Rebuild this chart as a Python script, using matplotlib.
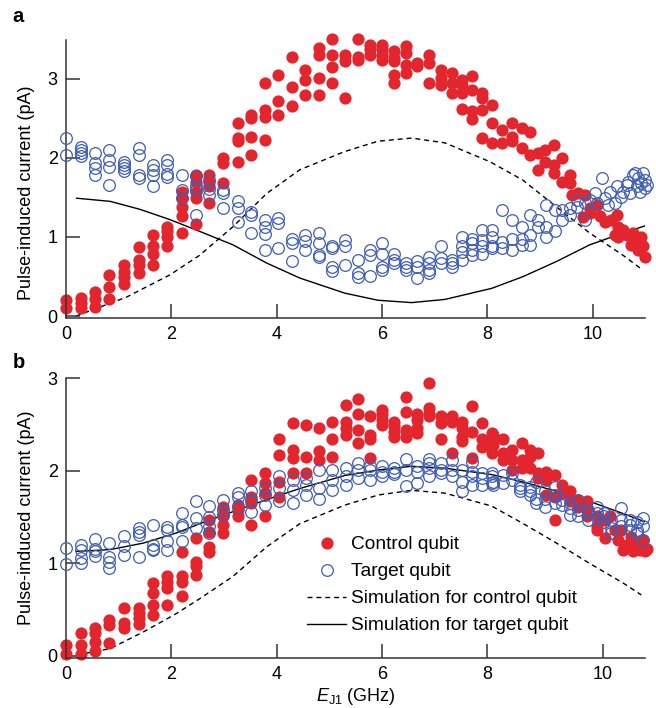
import numpy as np
import matplotlib
matplotlib.use("Agg")
import matplotlib.pyplot as plt
from matplotlib.lines import Line2D

plt.rcParams['font.family'] = ['Liberation Sans', 'DejaVu Sans']
plt.rcParams['mathtext.fontset'] = 'custom'
plt.rcParams['mathtext.rm'] = 'Liberation Sans'
plt.rcParams['mathtext.it'] = 'Liberation Sans:italic'

RED = '#E3262E'
BLUE = '#3E5DB4'

# ---------------- Panel a data (E_J1 in GHz, current in pA) ----------------
a_ctrl_cols = [
    (0.00, [0.20, 0.10]), (0.28, [0.23, 0.16, 0.10]), (0.55, [0.31, 0.22, 0.12]),
    (0.82, [0.52, 0.37, 0.22]), (1.10, [0.65, 0.56, 0.50, 0.41]),
    (1.38, [0.87, 0.71, 0.64, 0.54]), (1.66, [1.03, 0.88, 0.78, 0.65]),
    (1.92, [1.13, 1.08, 1.00, 0.88]), (2.20, [1.57, 1.49, 1.38, 1.26, 1.05]),
    (2.46, [1.78, 1.70, 1.57, 1.49, 1.16]), (2.72, [1.78, 1.70, 1.64, 1.43]),
    (2.98, [2.00, 1.93, 1.68]), (3.26, [2.44, 2.25, 2.21, 1.95]),
    (3.52, [2.54, 2.50, 2.27, 2.04]), (3.78, [2.95, 2.61, 2.52, 2.23]),
    (4.03, [3.05, 2.72, 2.54]), (4.29, [3.28, 2.90, 2.65]), (4.54, [3.11, 2.99, 2.80]),
    (4.80, [3.39, 3.30, 3.01, 2.80]), (5.05, [3.50, 3.30, 3.15, 2.95]),
    (5.29, [3.30, 3.22, 2.76]), (5.54, [3.50, 3.28, 3.24]), (5.77, [3.43, 3.37, 3.30]),
    (6.00, [3.43, 3.37, 3.30, 3.24]), (6.23, [3.35, 3.26, 3.22, 3.05, 2.95]),
    (6.46, [3.41, 3.33, 3.18, 3.07]), (6.67, [3.20, 3.16]), (6.89, [3.30, 3.20, 2.95]),
    (7.11, [3.11, 3.01, 2.92]), (7.32, [3.07, 2.95, 2.82]), (7.52, [2.99, 2.92, 2.82, 2.62]),
    (7.71, [3.03, 2.86, 2.59, 2.49]), (7.90, [2.82, 2.76, 2.61, 2.25]),
    (8.08, [2.67, 2.44, 2.19]), (8.27, [2.35, 2.19]), (8.46, [2.44, 2.27, 2.21]),
    (8.65, [2.38, 2.12]), (8.80, [2.33, 2.04]), (8.96, [2.06, 1.85]), (9.10, [1.95, 2.10]),
    (9.27, [2.16, 1.91, 1.81]), (9.42, [2.00, 1.70]), (9.56, [1.78, 1.68]), (9.60, [1.53]),
    (9.72, [1.55]), (9.82, [1.25]), (9.85, [1.53]), (9.94, [1.36, 1.30]), (10.07, [1.41]),
    (10.13, [1.26]), (10.23, [1.19]), (10.35, [1.22]), (10.42, [1.03]), (10.45, [1.28]),
    (10.48, [1.13, 1.00]), (10.57, [1.09]), (10.64, [1.03]), (10.73, [0.90]),
    (10.77, [1.05]), (10.83, [0.96]), (10.86, [0.84]), (10.92, [1.00]), (10.95, [0.88]),
    (10.99, [0.75]),
]
a_targ_cols = [
    (0.00, [2.25, 2.04]), (0.28, [2.14, 2.10, 2.06, 2.02]), (0.55, [2.06, 1.93, 1.87, 1.78]),
    (0.82, [2.10, 1.97, 1.89, 1.66]), (1.10, [1.95, 1.91, 1.87, 1.83]),
    (1.38, [2.12, 2.04, 1.78, 1.74]), (1.66, [1.91, 1.85, 1.78, 1.65]),
    (1.92, [1.97, 1.91, 1.80, 1.76]), (2.20, [1.78, 1.59, 1.49]),
    (2.46, [1.77, 1.64, 1.59, 1.28]), (2.72, [1.72, 1.60, 1.53]), (2.98, [1.59, 1.55, 1.36]),
    (3.26, [1.45, 1.36, 1.19]), (3.52, [1.32, 1.28, 1.05]), (3.78, [1.22, 1.13, 1.04, 0.84]),
    (4.03, [1.24, 1.18, 0.86]), (4.29, [0.98, 0.92, 0.69]), (4.54, [1.03, 0.95, 0.84]),
    (4.80, [1.05, 0.92, 0.77, 0.75]), (5.05, [0.88, 0.86, 0.62, 0.57]),
    (5.29, [0.96, 0.88, 0.65]), (5.54, [0.71, 0.54, 0.50]), (5.77, [0.84, 0.77, 0.51]),
    (6.00, [0.92, 0.79, 0.62, 0.58]), (6.23, [0.79, 0.71, 0.67]), (6.46, [0.67, 0.62, 0.58]),
    (6.67, [0.69, 0.62, 0.48]), (6.89, [0.75, 0.67, 0.58, 0.54]), (7.11, [0.88, 0.73, 0.67]),
    (7.32, [0.71, 0.67, 0.62]), (7.52, [1.00, 0.88, 0.81, 0.71]),
    (7.71, [0.98, 0.92, 0.84, 0.77]), (7.90, [1.09, 0.96, 0.89, 0.79]),
    (8.08, [1.09, 1.00, 0.88, 0.86]), (8.27, [1.34, 0.94, 0.86]), (8.46, [1.22, 0.98, 0.84]),
    (8.65, [1.13, 0.98, 0.90]), (8.80, [1.28, 1.03, 0.90]), (8.96, [1.22, 1.13]),
    (9.12, [1.41, 1.13, 1.00]), (9.28, [1.34, 1.07]), (9.41, [1.34, 1.22]),
    (9.56, [1.36, 1.28]), (9.70, [1.47, 1.38]), (9.85, [1.43, 1.22]), (9.94, [1.47]),
    (10.04, [1.55]), (10.07, [1.43]), (10.17, [1.74]), (10.23, [1.49]), (10.29, [1.41]),
    (10.32, [1.57]), (10.42, [1.43]), (10.45, [1.64]), (10.54, [1.51]), (10.57, [1.57]),
    (10.64, [1.66]), (10.67, [1.70]), (10.70, [1.55]), (10.77, [1.78]), (10.80, [1.81]),
    (10.83, [1.64]), (10.86, [1.74]), (10.89, [1.57]), (10.92, [1.68]), (10.95, [1.81]),
    (10.99, [1.72, 1.62]), (11.02, [1.66]),
]
a_sim_ctrl_x = [0.19, 1.15, 1.97, 2.54, 3.17, 3.81, 4.44, 5.29, 5.92, 6.56, 7.19, 8.05, 8.67, 9.31, 9.94, 10.57, 10.95]
a_sim_ctrl_y = [0.00, 0.24, 0.52, 0.77, 1.13, 1.55, 1.85, 2.08, 2.21, 2.25, 2.19, 1.95, 1.72, 1.38, 1.05, 0.77, 0.58]
a_sim_targ_x = [0.20, 0.84, 1.40, 1.97, 2.54, 3.17, 3.81, 4.44, 5.29, 5.92, 6.56, 7.19, 8.08, 8.68, 9.31, 9.94, 10.57, 10.99]
a_sim_targ_y = [1.49, 1.45, 1.35, 1.22, 1.07, 0.90, 0.67, 0.48, 0.29, 0.20, 0.17, 0.21, 0.35, 0.50, 0.69, 0.90, 1.05, 1.14]

# ---------------- Panel b data ----------------
b_ctrl_cols = [
    (0.00, [0.12, 0.02]), (0.28, [0.25, 0.12, 0.02]), (0.55, [0.30, 0.25, 0.15, 0.05]),
    (0.82, [0.39, 0.34, 0.14]), (1.10, [0.52, 0.36, 0.30]), (1.38, [0.52, 0.46, 0.41, 0.35]),
    (1.66, [0.79, 0.68, 0.55, 0.44]), (1.92, [0.86, 0.80, 0.73, 0.55]),
    (2.20, [1.12, 0.86, 0.80, 0.65]), (2.46, [1.27, 1.02, 0.97, 0.88]),
    (2.72, [1.47, 1.34, 1.18, 1.12]), (2.98, [1.61, 1.51, 1.42, 1.33]),
    (3.26, [1.63, 1.58, 1.51]), (3.52, [1.90, 1.72, 1.65, 1.41]),
    (3.78, [1.98, 1.87, 1.76, 1.51]), (4.04, [2.35, 2.17, 1.88, 1.72]),
    (4.30, [2.52, 2.23, 2.14, 1.98]), (4.55, [2.50, 2.15, 1.98]), (4.80, [2.46, 2.21, 2.12]),
    (5.05, [2.53, 2.35, 2.15]), (5.31, [2.71, 2.53, 2.46, 2.39]),
    (5.54, [2.78, 2.61, 2.44, 2.30]), (5.77, [2.59, 2.39, 2.34, 2.14]),
    (6.00, [2.66, 2.61, 2.55, 2.50]), (6.23, [2.53, 2.48, 2.42, 2.37]),
    (6.46, [2.80, 2.64, 2.44, 2.37]), (6.67, [2.61, 2.55, 2.46, 2.41]),
    (6.89, [2.95, 2.68, 2.62, 2.59]), (7.11, [2.59, 2.52, 2.35]), (7.32, [2.59, 2.53, 2.19]),
    (7.52, [2.53, 2.46, 2.37, 2.32]), (7.71, [2.70, 2.42, 2.14]), (7.90, [2.52, 2.35, 2.26]),
    (8.08, [2.41, 2.32, 2.19]), (8.11, [2.39, 2.28]), (8.30, [2.34, 2.19, 2.12]),
    (8.46, [2.23, 2.12, 2.01]), (8.65, [2.30, 2.12, 2.03]), (8.80, [2.23, 2.15, 2.03]),
    (8.96, [2.19, 1.98, 1.92]), (9.12, [1.99, 1.90, 1.74]), (9.28, [1.96, 1.72, 1.47]),
    (9.41, [1.85, 1.76]), (9.56, [1.78, 1.67]), (9.72, [1.69, 1.61]),
    (9.88, [1.67, 1.60, 1.51]), (10.07, [1.51, 1.40, 1.36]), (10.23, [1.47, 1.27]),
    (10.32, [1.51]), (10.42, [1.36]), (10.48, [1.25]), (10.54, [1.36]), (10.57, [1.15]),
    (10.64, [1.20]), (10.73, [1.29]), (10.77, [1.13]), (10.83, [1.22]), (10.89, [1.15]),
    (10.95, [1.25]), (10.99, [1.13]), (11.02, [1.16]),
]
b_targ_cols = [
    (0.00, [1.17, 0.99]), (0.28, [1.20, 1.15, 1.06, 1.00]), (0.55, [1.26, 1.16, 1.13, 1.08]),
    (0.82, [1.22, 1.07, 1.02, 0.95]), (1.10, [1.30, 1.19, 1.09]),
    (1.38, [1.38, 1.34, 1.31, 1.07]), (1.66, [1.41, 1.20, 1.16, 1.15]),
    (1.92, [1.39, 1.36, 1.24, 1.15]), (2.20, [1.54, 1.42, 1.39, 1.24]),
    (2.46, [1.67, 1.49, 1.38]), (2.72, [1.62, 1.50, 1.40, 1.33]), (2.98, [1.69, 1.58, 1.52]),
    (3.26, [1.76, 1.72, 1.61]), (3.52, [1.78, 1.69, 1.56]), (3.78, [1.81, 1.74, 1.63]),
    (4.04, [1.94, 1.81, 1.67]), (4.30, [1.90, 1.79, 1.65]), (4.55, [1.92, 1.85, 1.74]),
    (4.80, [2.01, 1.81, 1.70]), (5.05, [2.01, 1.90, 1.79]), (5.31, [2.03, 1.94, 1.85]),
    (5.54, [2.08, 2.01, 1.92]), (5.77, [2.05, 2.01, 1.90]), (6.00, [2.05, 1.99, 1.95]),
    (6.23, [2.03, 1.99, 1.97]), (6.46, [2.13, 2.01, 1.84]), (6.67, [2.05, 1.99, 1.87]),
    (6.89, [2.13, 2.08, 2.03, 1.94]), (7.11, [2.08, 2.01, 1.98]), (7.32, [2.12, 2.01, 1.94]),
    (7.52, [2.01, 1.88, 1.78]), (7.71, [2.10, 1.99, 1.94, 1.85]), (7.90, [1.98, 1.92, 1.85]),
    (8.08, [1.98, 1.94, 1.87]), (8.11, [1.88, 1.85]), (8.30, [1.96, 1.87]), (8.46, [1.98, 1.90]),
    (8.62, [1.85, 1.81, 1.78]), (8.80, [1.83, 1.78, 1.74]), (8.93, [1.88, 1.70, 1.65]),
    (9.09, [1.78, 1.70, 1.61]), (9.28, [1.83, 1.74, 1.65]), (9.41, [1.69, 1.63]),
    (9.56, [1.65, 1.60, 1.52]), (9.72, [1.69, 1.58, 1.51]), (9.90, [1.58, 1.54, 1.47]),
    (10.07, [1.61, 1.54, 1.49]), (10.21, [1.54, 1.51, 1.45]), (10.35, [1.47, 1.38, 1.33]),
    (10.54, [1.60, 1.47, 1.40]), (10.70, [1.47, 1.42, 1.36]), (10.83, [1.45, 1.36, 1.33]),
    (10.95, [1.49, 1.40, 1.25]),
]
b_sim_ctrl_x = [0.20, 0.84, 1.47, 2.10, 2.54, 3.17, 3.81, 4.44, 5.29, 5.93, 6.56, 7.19, 8.08, 8.68, 9.31, 9.94, 10.57, 10.92]
b_sim_ctrl_y = [0.01, 0.08, 0.26, 0.46, 0.62, 0.86, 1.18, 1.43, 1.63, 1.74, 1.79, 1.76, 1.62, 1.43, 1.22, 1.00, 0.79, 0.66]
b_sim_targ_x = [0.20, 0.84, 1.47, 2.10, 2.54, 3.17, 3.81, 4.44, 5.29, 5.93, 6.56, 7.19, 8.08, 8.68, 9.31, 9.94, 10.57, 10.99]
b_sim_targ_y = [1.13, 1.15, 1.22, 1.33, 1.43, 1.56, 1.69, 1.81, 1.95, 2.01, 2.05, 2.03, 1.96, 1.88, 1.78, 1.67, 1.54, 1.45]

a_xticks = [0, 2, 4, 6, 8, 10]
b_xtick_pos = [0, 2, 4, 6, 8, 10.19]
xtick_labels = ['0', '2', '4', '6', '8', '10']


def flatten(cols):
    xs, ys = [], []
    for x, vals in cols:
        for v in vals:
            xs.append(x)
            ys.append(v)
    return np.array(xs), np.array(ys)


fig = plt.figure(figsize=(6.56, 7.08), dpi=100)
ax1 = fig.add_axes([0.1006, 0.5508, 0.8826, 0.3927])
ax2 = fig.add_axes([0.1006, 0.0706, 0.8826, 0.3950])

FS = 13
LFS = 13.8
MS = 8.8


def style(ax):
    for s in ['top', 'right']:
        ax.spines[s].set_visible(False)
    for s in ['left', 'bottom']:
        ax.spines[s].set_color('#333333')
        ax.spines[s].set_linewidth(1.1)
    ax.tick_params(direction='in', length=10, width=1.1, color='#333333',
                   labelsize=FS, pad=6)


def draw(ax, ctrl_cols, targ_cols, sc_x, sc_y, st_x, st_y):
    cx, cy = flatten(ctrl_cols)
    tx, ty = flatten(targ_cols)
    ax.plot(sc_x, sc_y, color='black', lw=1.0, ls=(0, (3.6, 2.8)), zorder=1)
    ax.plot(st_x, st_y, color='black', lw=1.0, zorder=1)
    ax.plot(cx, cy, 'o', ms=MS, color=RED, mec='none', zorder=2, clip_on=False)
    ax.plot(tx, ty, 'o', ms=MS - 0.4, mfc='none', mec=BLUE, mew=0.9, zorder=3, clip_on=False)


draw(ax1, a_ctrl_cols, a_targ_cols, a_sim_ctrl_x, a_sim_ctrl_y, a_sim_targ_x, a_sim_targ_y)
draw(ax2, b_ctrl_cols, b_targ_cols, b_sim_ctrl_x, b_sim_ctrl_y, b_sim_targ_x, b_sim_targ_y)

style(ax1)
style(ax2)
ax1.set_xlim(0, 10.99)
ax1.set_ylim(-0.025, 3.49)
ax1.set_xticks(a_xticks)
ax1.set_xticklabels(xtick_labels)
ax1.set_yticks([0, 1, 2, 3])
ax2.set_xlim(0, 10.99)
ax2.set_ylim(-0.022, 3.0)
ax2.set_xticks(b_xtick_pos)
ax2.set_xticklabels(xtick_labels)
ax2.set_yticks([0, 1, 2, 3])

ax1.set_ylabel('Pulse-induced current (pA)', fontsize=FS)
ax2.set_ylabel('Pulse-induced current (pA)', fontsize=FS)
ax1.yaxis.set_label_coords(-0.053, 0.45)
ax2.yaxis.set_label_coords(-0.053, 0.5)
ax2.set_xlabel(r'$E_{\mathrm{J1}}$ (GHz)', fontsize=FS, labelpad=2)

fig.text(0.019, 1 - 21.7 / 708, 'a', fontsize=14.5, fontweight='bold', va='baseline')
fig.text(0.019, 1 - 368.3 / 708, 'b', fontsize=14.5, fontweight='bold', va='baseline')

handles = [
    Line2D([], [], ls='none', marker='o', ms=MS, color=RED, mec='none'),
    Line2D([], [], ls='none', marker='o', ms=MS - 0.4, mfc='none', mec=BLUE, mew=0.9),
    Line2D([], [], color='black', lw=1.0, ls=(0, (3.6, 2.8))),
    Line2D([], [], color='black', lw=1.0),
]
labels = ['Control qubit', 'Target qubit', 'Simulation for control qubit',
          'Simulation for target qubit']
ax2.legend(handles, labels, loc='upper left', bbox_to_anchor=(307 / 656, 1 - 536 / 708),
           bbox_transform=fig.transFigure, frameon=False, fontsize=LFS,
           borderpad=0, borderaxespad=0, handlelength=2.05, handletextpad=0.22,
           labelspacing=0.5)

fig.savefig('out.png', dpi=100)
